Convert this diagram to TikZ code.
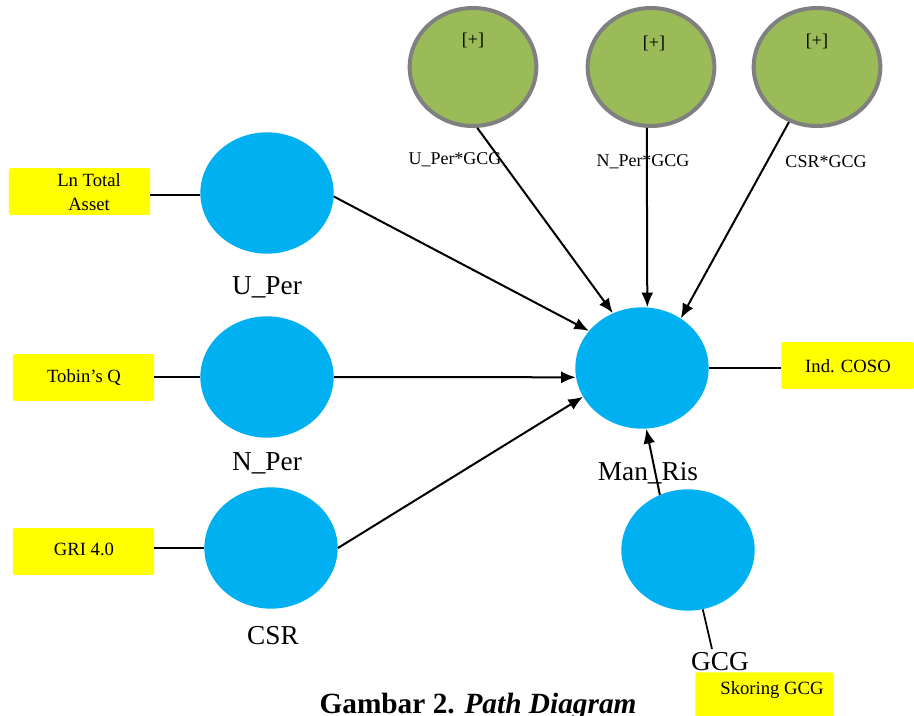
\documentclass[tikz,border=0pt]{standalone}
\usepackage{fontspec}
\setmainfont{Liberation Serif}
\usetikzlibrary{arrows.meta,shapes.geometric}
\definecolor{latblue}{HTML}{00B0F0}
\definecolor{intgreen}{HTML}{9BBB59}
\definecolor{intgray}{HTML}{808080}
\definecolor{indyellow}{HTML}{FFFF00}
\tikzset{
  latent/.style={ellipse, fill=latblue, minimum width=100pt, minimum height=91pt, inner sep=0pt},
  inter/.style={ellipse, fill=intgreen, draw=intgray, line width=3pt, minimum width=95pt, minimum height=88.5pt, inner sep=0pt},
  indbox/.style={rectangle, rounded corners=1.5pt, fill=indyellow, minimum width=106pt, minimum height=35pt, inner sep=0pt},
  biglab/.style={font=\fontsize{20.5}{22}\selectfont, inner sep=0pt},
  smalllab/.style={font=\fontsize{13.5}{15}\selectfont, inner sep=0pt},
  boxtext/.style={font=\fontsize{14}{18}\selectfont, inner sep=0pt, align=center},
  path/.style={line width=1.5pt, -{Latex[length=11pt,width=9pt]}},
  link/.style={line width=1.3pt}
}
\begin{document}
\begin{tikzpicture}[x=0.75pt,y=-0.75pt]
\clip (0,0) rectangle (914,715);
\useasboundingbox (0,0) rectangle (914,715);
\fill[white] (0,0) rectangle (914,715);

% latent variables
\node[latent] (U) at (267,193) {};
\node[latent] (N) at (267,377) {};
\node[latent] (C) at (271,548) {};
\node[latent] (M) at (642,368) {};
\node[latent] (G) at (688,550) {};

\node[biglab] (Ulab) at (267,287) {U\_Per};
\node[biglab] (Nlab) at (267,463) {N\_Per};
\node[biglab] (Clab) at (273,636) {CSR};
\node[biglab] (Mlab) at (648,473) {Man\_Ris};

% interaction terms
\node[inter] (I1) at (473,67) {};
\node[inter] (I2) at (651,67) {};
\node[inter] (I3) at (817,67) {};
\node[smalllab] (p1) at (473,40) {[+]};
\node[smalllab] (p2) at (654,43) {[+]};
\node[smalllab] (p3) at (817,41) {[+]};
\node[smalllab] (I1lab) at (455,160) {U\_Per*GCG};
\node[smalllab] (I2lab) at (643,162) {N\_Per*GCG};
\node[smalllab] (I3lab) at (826,162) {CSR*GCG};

% indicators
\node[indbox] (LTA) at (79.5,191.5) {};
\node[boxtext] (LTAt) at (89,192) {Ln Total\\Asset};
\node[indbox] (TQ) at (83.5,377.5) {};
\node[boxtext] (TQt) at (84,378) {Tobin’s Q};
\node[indbox] (GRI) at (83.5,551.5) {};
\node[boxtext] (GRIt) at (84,549) {GRI 4.0};
\node[indbox, minimum width=100pt, anchor=west] (COSO) at (781,365.5) {};
\node[boxtext] (COSOt) at (848,366) {Ind. COSO};
\node[indbox, minimum width=103.5pt, minimum height=40pt, anchor=north west] (SK) at (695,672) {};
\node[boxtext] (SKt) at (772,690) {Skoring GCG};

% connectors indicator
\draw[link] (U.182) -- (U.182 -| LTA.east);
\draw[link] (N.west) -- (N.west -| TQ.east);
\draw[link] (C.west) -- (C.west -| GRI.east);
\draw[link] (M.east) -- (M.east -| COSO.west);
\coordinate (skend) at (712,649);
\draw[link] (G.-76) -- (skend);

% structural paths
\draw[path] (U.-3) -- (M.145);
\draw[path] (N.0) -- (M.188);
\draw[path] (C.0) -- (M.206);
\draw[path] (I1.-86) -- (M.118);
\draw[path] (I2.-94) -- (M.85);
\draw[path] (I3.243) -- (M.52);
\draw[path] (G.117) -- (M.-86);

\node[biglab] (Glab) at (720,662) {GCG};

% caption
\node[anchor=base, inner sep=0pt, font=\fontsize{22}{24}\selectfont\bfseries] (cap) at (478,713) {Gambar 2. \textit{Path Diagram}};
\end{tikzpicture}
\end{document}
